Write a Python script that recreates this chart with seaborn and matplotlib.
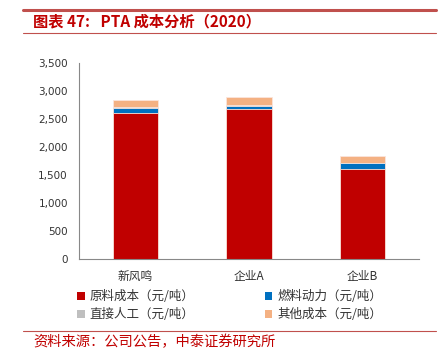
import numpy as np
import pandas as pd
import seaborn as sns
import matplotlib.pyplot as plt
from matplotlib.patches import Patch
from matplotlib.lines import Line2D

companies = ['新风鸣', '企业A', '企业B']
raw_cost = [2610, 2670, 1605]
fuel_power = [85, 65, 105]
labor = [10, 10, 10]
other_cost = [130, 140, 120]

series_names = ['原料成本（元/吨）', '燃料动力（元/吨）', '直接人工（元/吨）', '其他成本（元/吨）']
colors = ['#C00000', '#0070C0', '#BFBFBF', '#F4B183']

sns.set_style('white')
plt.rcParams['font.family'] = ['Noto Sans CJK SC', 'DejaVu Sans']

df = pd.DataFrame({'company': companies, 'raw': raw_cost, 'fuel': fuel_power,
                   'labor': labor, 'other': other_cost})
cols = ['raw', 'fuel', 'labor', 'other']
cum = df[cols].cumsum(axis=1)

fig = plt.figure(figsize=(4.4, 3.56), dpi=100)
ax = fig.add_axes([0.1795, 0.2725, 0.7725, 0.5506])

# stacked: draw cumulative totals from the top segment down
for col, c in reversed(list(zip(cols, colors))):
    sns.barplot(x=df['company'], y=cum[col], color=c, width=0.4, ax=ax,
                saturation=1, edgecolor='#fbe5dc', linewidth=0.6)

ax.set_ylim(0, 3500)
ax.set_xlim(-0.5, 2.5)
ax.set_yticks(np.arange(0, 3501, 500))
ax.set_yticklabels([f'{v:,}' for v in range(0, 3501, 500)], family='DejaVu Sans',
                   fontsize=7.5, color='#333333')
ax.set_xticks([0, 1, 2])
ax.set_xticklabels(companies, fontsize=8.5, color='#333333')
ax.set_xticks([0.5, 1.5], minor=True)
ax.tick_params(axis='x', which='major', length=0, pad=8)
ax.tick_params(axis='x', which='minor', direction='in', length=4, color='#888888')
ax.tick_params(axis='y', direction='in', length=3, color='#888888', pad=8)
ax.set_xlabel('')
ax.set_ylabel('')
for s in ['top', 'right']:
    ax.spines[s].set_visible(False)
for s in ['left', 'bottom']:
    ax.spines[s].set_color('#888888')
    ax.spines[s].set_linewidth(0.8)

# legend fills column-wise, so order so rows read raw/fuel, labor/other
order = [0, 2, 1, 3]
handles = [Patch(facecolor=colors[i], edgecolor='none') for i in order]
labels = [series_names[i] for i in order]
fig.legend(handles, labels, loc='upper left', bbox_to_anchor=(0.15, 0.216),
           ncol=2, frameon=False, fontsize=9, handlelength=0.6, handleheight=0.6,
           handletextpad=0.4, columnspacing=5.6, labelspacing=0.4,
           labelcolor='#333333')

red = '#C0504D'
fig.add_artist(Line2D([0.052, 0.99], [0.972, 0.972], color=red, lw=2.2))
fig.add_artist(Line2D([0.052, 0.99], [0.907, 0.907], color=red, lw=0.8))
fig.text(0.075, 0.94, '图表 47:   PTA 成本分析（2020）', fontsize=11,
         fontweight='bold', color='#C00000', va='center')
fig.add_artist(Line2D([0.052, 0.99], [0.07, 0.07], color=red, lw=0.8))
fig.text(0.075, 0.038, '资料来源：公司公告，中泰证券研究所', fontsize=10.3,
         color='#C00000', va='center')

fig.savefig('out.png', dpi=100)
